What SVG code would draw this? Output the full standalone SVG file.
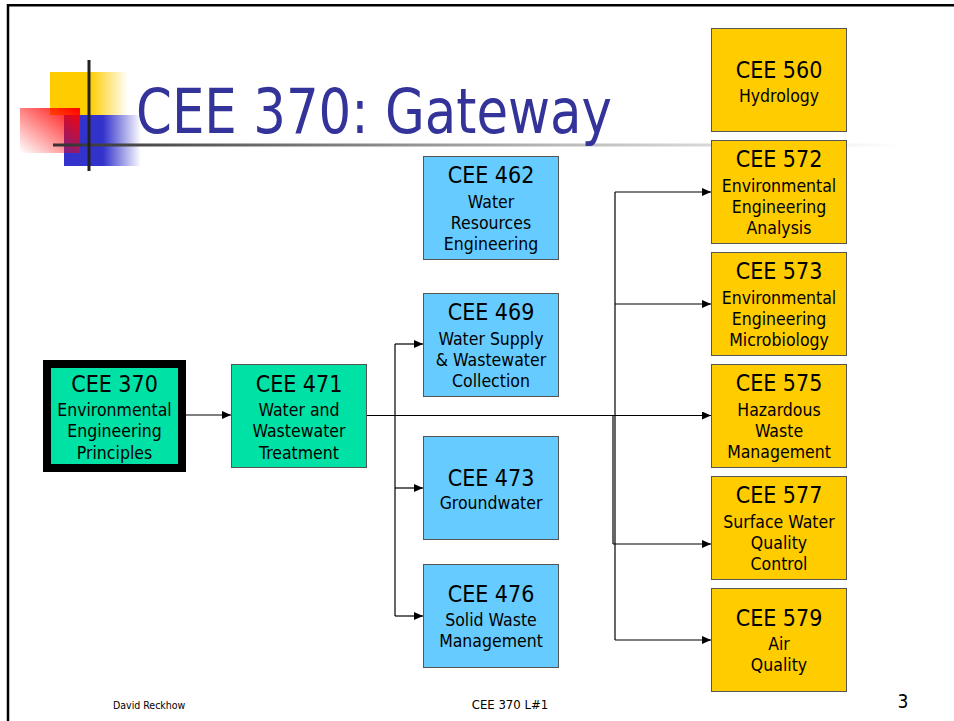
<svg xmlns="http://www.w3.org/2000/svg" width="954" height="721" viewBox="0 0 954 721">
<defs>
<style>
.t{font-family:"DejaVu Sans Condensed","DejaVu Sans",sans-serif;fill:#000;text-anchor:middle}
.h{font-size:23px}
.s{font-size:17.5px}
.g rect{fill:#00E1A6;stroke:#555;stroke-width:1}
.b rect{fill:#66CCFF;stroke:#555;stroke-width:1}
.y rect{fill:#FFCC00;stroke:#555;stroke-width:1}
.c line,.c path{stroke:#000;stroke-width:1.2;fill:none}
.f{font-family:"DejaVu Sans Condensed","DejaVu Sans",sans-serif;fill:#000}
</style>
<marker id="ah" markerWidth="9" markerHeight="8" refX="9" refY="4" orient="auto" markerUnits="userSpaceOnUse">
<path d="M0,0 L9,4 L0,8 Z" fill="#000"/>
</marker>
<linearGradient id="yg" x1="0" y1="0" x2="1" y2="0"><stop offset="0" stop-color="#FFCC00"/><stop offset="1" stop-color="#FFCC00" stop-opacity="0"/></linearGradient>
<linearGradient id="bg" x1="0" y1="0" x2="1" y2="0"><stop offset="0" stop-color="#3333CC"/><stop offset="1" stop-color="#3333CC" stop-opacity="0"/></linearGradient>
<linearGradient id="rg" x1="1" y1="0" x2="0" y2="1"><stop offset="0" stop-color="#FF0000"/><stop offset="1" stop-color="#FF0000" stop-opacity="0"/></linearGradient>
<linearGradient id="lg" x1="0" y1="0" x2="1" y2="0"><stop offset="0" stop-color="#333"/><stop offset="0.6" stop-color="#BBB"/><stop offset="1" stop-color="#FFF"/></linearGradient>
</defs>
<rect width="954" height="721" fill="#fff"/>
<g id="frame">
<line x1="8" y1="4" x2="8" y2="721" stroke="#000" stroke-width="2.5"/>
<line x1="7" y1="5.2" x2="954" y2="5.2" stroke="#000" stroke-width="2.5"/>
</g>
<g id="logo">
<rect x="50" y="72" width="40" height="43" fill="#FFCC00"/>
<rect x="90" y="72" width="38" height="43" fill="url(#yg)"/>
<rect x="64" y="115" width="39" height="51" fill="#3333CC"/>
<rect x="103" y="115" width="38" height="51" fill="url(#bg)"/>
<rect x="20" y="108" width="60" height="45" fill="url(#rg)"/>
<rect x="53" y="143.5" width="850" height="3" fill="url(#lg)"/>
<rect x="87.5" y="60" width="3" height="111" fill="#222"/>
</g>
<text id="title" x="136" y="133" font-family="DejaVu Sans, sans-serif" font-size="62" fill="#333399" textLength="476" lengthAdjust="spacingAndGlyphs">CEE 370: Gateway</text>
<g id="connectors" class="c">
<line x1="186" y1="415" x2="231" y2="415" marker-end="url(#ah)"/>
<line x1="367" y1="415.5" x2="614" y2="415.5" stroke-width="1.8"/>
<line x1="395" y1="344" x2="395" y2="616"/>
<line x1="395" y1="344" x2="423" y2="344" marker-end="url(#ah)"/>
<line x1="395" y1="488" x2="423" y2="488" marker-end="url(#ah)"/>
<line x1="395" y1="616" x2="423" y2="616" marker-end="url(#ah)"/>
<line x1="615" y1="192" x2="615" y2="640"/>
<line x1="613" y1="415" x2="613" y2="544"/>
<line x1="615" y1="192" x2="711" y2="192" marker-end="url(#ah)"/>
<line x1="615" y1="304" x2="711" y2="304" marker-end="url(#ah)"/>
<line x1="614" y1="415.5" x2="711" y2="415.5" marker-end="url(#ah)"/>
<line x1="613" y1="544" x2="711" y2="544" marker-end="url(#ah)"/>
<line x1="615" y1="640" x2="711" y2="640" marker-end="url(#ah)"/>
</g>
<g id="cee370" class="g">
<rect x="47" y="364" width="135" height="104" style="stroke:#000;stroke-width:8"/>
<text class="t h" x="114.5" y="392">CEE 370</text>
<text class="t s" x="114.5" y="416">Environmental</text>
<text class="t s" x="114.5" y="437">Engineering</text>
<text class="t s" x="114.5" y="459">Principles</text>
</g>
<g id="cee471" class="g">
<rect x="231.5" y="364.5" width="135" height="103"/>
<text class="t h" x="299" y="392">CEE 471</text>
<text class="t s" x="299" y="416">Water and</text>
<text class="t s" x="299" y="437">Wastewater</text>
<text class="t s" x="299" y="459">Treatment</text>
</g>
<g id="cee462" class="b">
<rect x="423.5" y="156.5" width="135" height="103"/>
<text class="t h" x="491" y="183">CEE 462</text>
<text class="t s" x="491" y="208">Water</text>
<text class="t s" x="491" y="229">Resources</text>
<text class="t s" x="491" y="250">Engineering</text>
</g>
<g id="cee469" class="b">
<rect x="423.5" y="293.5" width="135" height="103"/>
<text class="t h" x="491" y="320">CEE 469</text>
<text class="t s" x="491" y="345">Water Supply</text>
<text class="t s" x="491" y="366">&amp; Wastewater</text>
<text class="t s" x="491" y="387">Collection</text>
</g>
<g id="cee473" class="b">
<rect x="423.5" y="436.5" width="135" height="103"/>
<text class="t h" x="491" y="486">CEE 473</text>
<text class="t s" x="491" y="509">Groundwater</text>
</g>
<g id="cee476" class="b">
<rect x="423.5" y="564.5" width="135" height="103"/>
<text class="t h" x="491" y="602">CEE 476</text>
<text class="t s" x="491" y="626">Solid Waste</text>
<text class="t s" x="491" y="647">Management</text>
</g>
<g id="cee560" class="y">
<rect x="711.5" y="28.5" width="135" height="103"/>
<text class="t h" x="779" y="78">CEE 560</text>
<text class="t s" x="779" y="102">Hydrology</text>
</g>
<g id="cee572" class="y">
<rect x="711.5" y="140.5" width="135" height="103"/>
<text class="t h" x="779" y="167">CEE 572</text>
<text class="t s" x="779" y="192">Environmental</text>
<text class="t s" x="779" y="213">Engineering</text>
<text class="t s" x="779" y="234">Analysis</text>
</g>
<g id="cee573" class="y">
<rect x="711.5" y="252.5" width="135" height="103"/>
<text class="t h" x="779" y="279">CEE 573</text>
<text class="t s" x="779" y="304">Environmental</text>
<text class="t s" x="779" y="325">Engineering</text>
<text class="t s" x="779" y="346">Microbiology</text>
</g>
<g id="cee575" class="y">
<rect x="711.5" y="364.5" width="135" height="103"/>
<text class="t h" x="779" y="391">CEE 575</text>
<text class="t s" x="779" y="416">Hazardous</text>
<text class="t s" x="779" y="437">Waste</text>
<text class="t s" x="779" y="458">Management</text>
</g>
<g id="cee577" class="y">
<rect x="711.5" y="476.5" width="135" height="103"/>
<text class="t h" x="779" y="503">CEE 577</text>
<text class="t s" x="779" y="528">Surface Water</text>
<text class="t s" x="779" y="549">Quality</text>
<text class="t s" x="779" y="570">Control</text>
</g>
<g id="cee579" class="y">
<rect x="711.5" y="588.5" width="135" height="103"/>
<text class="t h" x="779" y="626">CEE 579</text>
<text class="t s" x="779" y="650">Air</text>
<text class="t s" x="779" y="671">Quality</text>
</g>
<g id="footer">
<text class="f" x="113" y="709" font-size="10.5">David Reckhow</text>
<text class="f" x="510" y="709" font-size="13" text-anchor="middle">CEE 370 L#1</text>
<text class="f" x="903" y="708" font-size="19" text-anchor="middle">3</text>
</g>
</svg>
